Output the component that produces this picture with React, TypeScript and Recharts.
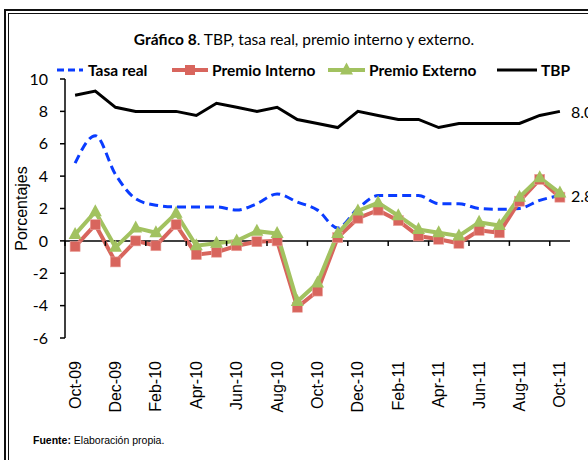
import React from 'react';
import { LineChart, Line, XAxis, YAxis, ReferenceLine, LabelList } from 'recharts';

const months = ['Oct-09','Nov-09','Dec-09','Jan-10','Feb-10','Mar-10','Apr-10','May-10','Jun-10','Jul-10','Aug-10','Sep-10','Oct-10','Nov-10','Dec-10','Jan-11','Feb-11','Mar-11','Apr-11','May-11','Jun-11','Jul-11','Aug-11','Sep-11','Oct-11'];
const tasaReal = [4.8, 6.5, 4.1, 2.6, 2.2, 2.1, 2.1, 2.1, 1.9, 2.3, 2.9, 2.4, 1.9, 0.8, 2.0, 2.8, 2.8, 2.8, 2.3, 2.3, 2.0, 1.95, 2.0, 2.5, 2.8];
const premioInterno = [-0.35, 1.0, -1.3, 0.0, -0.3, 1.0, -0.85, -0.7, -0.3, -0.05, 0.0, -4.1, -3.1, 0.2, 1.4, 1.9, 1.25, 0.3, 0.1, -0.15, 0.65, 0.5, 2.45, 3.8, 2.7];
const premioExterno = [0.4, 1.8, -0.4, 0.8, 0.5, 1.7, -0.3, -0.15, 0.0, 0.6, 0.45, -3.75, -2.6, 0.45, 1.85, 2.35, 1.55, 0.7, 0.5, 0.3, 1.15, 0.95, 2.7, 3.9, 2.95];
const tbp = [9.0, 9.25, 8.25, 8.0, 8.0, 8.0, 7.75, 8.5, 8.25, 8.0, 8.25, 7.5, 7.25, 7.0, 8.0, 7.75, 7.5, 7.5, 7.0, 7.25, 7.25, 7.25, 7.25, 7.75, 8.0];
const yTicks = [-6, -4, -2, 0, 2, 4, 6, 8, 10];
const yDomain = [-6, 10];
const seriesNames = ['Tasa real', 'Premio Interno', 'Premio Externo', 'TBP'];

const data = months.map((m, i) => ({
  month: m,
  tasaReal: tasaReal[i],
  premioInterno: premioInterno[i],
  premioExterno: premioExterno[i],
  tbp: tbp[i],
}));

const W = 588;
const H = 460;
const M = { top: 79, right: 18, left: 20, bottom: 42 };
const Y_AXIS_W = 45;
const X_AXIS_H = 80;
const plotTop = M.top;
const plotBottom = H - M.bottom - X_AXIS_H;
const plotLeft = M.left + Y_AXIS_W;
const plotRight = W - M.right;
const band = (plotRight - plotLeft) / months.length;
const zeroY = plotTop + (plotBottom - plotTop) * (yDomain[1] / (yDomain[1] - yDomain[0]));

const RED = '#D8655D';
const GREEN = '#A2C260';
const BLUE = '#0A3CFF';
const CAL = 'Lato, "Open Sans", sans-serif';
const ARIAL = '"Liberation Sans", Arial, sans-serif';

const XTick = (props: any) => {
  const { x, payload } = props;
  const bx = x - band / 2;
  return (
    <g>
      <line x1={bx} x2={bx} y1={zeroY} y2={zeroY + 5} stroke="#000" strokeWidth={1.5} />
      <text
        transform={`translate(${x},${plotBottom + 23}) rotate(-90)`}
        textAnchor="end"
        dominantBaseline="central"
        fontFamily={ARIAL}
        fontSize={16}
        fill="#000"
      >
        {payload.value}
      </text>
    </g>
  );
};

const squareDot = (props: any) => {
  const { cx, cy, index } = props;
  if (cx == null || cy == null) return <g key={`s${index}`} />;
  return <rect key={`s${index}`} x={cx - 5} y={cy - 5} width={10} height={10} fill={RED} stroke="#EBA49E" strokeWidth={0.6} />;
};

const triDot = (props: any) => {
  const { cx, cy, index } = props;
  if (cx == null || cy == null) return <g key={`t${index}`} />;
  return <path key={`t${index}`} d={`M${cx},${cy - 7.5} L${cx + 6.5},${cy + 4.5} L${cx - 6.5},${cy + 4.5} Z`} fill={GREEN} />;
};

const lastLabel = (props: any) => {
  const { x, y, value, index } = props;
  if (index !== months.length - 1) return null;
  return (
    <text x={x + 11} y={y} dominantBaseline="central" fontFamily={CAL} fontSize={16} fill="#000">
      {Number(value).toFixed(1)}
    </text>
  );
};

const yLabel = () => (
  <text
    transform={`translate(21,${(plotTop + plotBottom) / 2 + 0}) rotate(-90)`}
    textAnchor="middle"
    dominantBaseline="central"
    fontFamily={ARIAL}
    fontSize={16}
    fill="#000"
  >
    Porcentajes
  </text>
);

const legendText = { fontFamily: CAL, fontSize: 15.5, fontWeight: 700 as const, fill: '#000' };

export default function App() {
  return (
    <div style={{ position: 'absolute', left: 0, top: 0, width: W, height: H, overflow: 'hidden', background: '#fff' }}>
      <div style={{ position: 'absolute', left: 0, top: 0 }}>
        <LineChart width={W} height={H} data={data} margin={M}>
          <XAxis
            dataKey="month"
            interval={1}
            axisLine={false}
            tickLine={false}
            height={X_AXIS_H}
            padding={{ left: band / 2, right: band / 2 }}
            tick={<XTick />}
          />
          <YAxis
            domain={yDomain}
            ticks={yTicks}
            width={Y_AXIS_W}
            tickSize={5}
            tickMargin={12}
            axisLine={{ stroke: '#000', strokeWidth: 1.5 }}
            tickLine={{ stroke: '#000', strokeWidth: 1.5 }}
            tick={{ fontFamily: CAL, fontSize: 16, fill: '#000' }}
            label={yLabel}
          />
          <ReferenceLine y={0} stroke="#000" strokeWidth={1.5} />
          <Line type="monotone" dataKey="tasaReal" name={seriesNames[0]} stroke={BLUE} strokeWidth={3} strokeDasharray="9 5" dot={false} isAnimationActive={false}>
            <LabelList dataKey="tasaReal" content={lastLabel} />
          </Line>
          <Line type="linear" dataKey="premioInterno" name={seriesNames[1]} stroke={RED} strokeWidth={4} dot={squareDot} isAnimationActive={false} />
          <Line type="linear" dataKey="premioExterno" name={seriesNames[2]} stroke={GREEN} strokeWidth={4} dot={triDot} isAnimationActive={false} />
          <Line type="linear" dataKey="tbp" name={seriesNames[3]} stroke="#000" strokeWidth={3} dot={false} isAnimationActive={false}>
            <LabelList dataKey="tbp" content={lastLabel} />
          </Line>
        </LineChart>
      </div>
      <svg width={W} height={H} style={{ position: 'absolute', left: 0, top: 0, pointerEvents: 'none' }}>
        <rect x={5} y={10} width={700} height={700} fill="none" stroke="#111" strokeWidth={2} />
        <rect x={8.5} y={13.5} width={700} height={700} fill="none" stroke="#111" strokeWidth={1} />
        <text x={304} y={45} textAnchor="middle" fontFamily={CAL} fontSize={15.5} fill="#000">
          <tspan fontWeight={700}>Gráfico 8</tspan>. TBP, tasa real, premio interno y externo.
        </text>
        <line x1={57} x2={83} y1={70} y2={70} stroke={BLUE} strokeWidth={3} strokeDasharray="7 4" />
        <text x={88} y={76} {...legendText}>{seriesNames[0]}</text>
        <line x1={172} x2={208} y1={70} y2={70} stroke={RED} strokeWidth={4} />
        <rect x={185} y={65} width={10} height={10} fill={RED} />
        <text x={212} y={76} {...legendText}>{seriesNames[1]}</text>
        <line x1={328} x2={365} y1={70} y2={70} stroke={GREEN} strokeWidth={4} />
        <path d="M346.5,62.5 L353,74.5 L340,74.5 Z" fill={GREEN} />
        <text x={369} y={76} {...legendText}>{seriesNames[2]}</text>
        <line x1={497} x2={537} y1={70} y2={70} stroke="#000" strokeWidth={3} />
        <text x={541} y={76} {...legendText}>{seriesNames[3]}</text>
        <text x={33} y={444} fontFamily={ARIAL} fontSize={10.5} fill="#000">
          <tspan fontWeight={700}>Fuente:</tspan> Elaboración propia.
        </text>
      </svg>
    </div>
  );
}
